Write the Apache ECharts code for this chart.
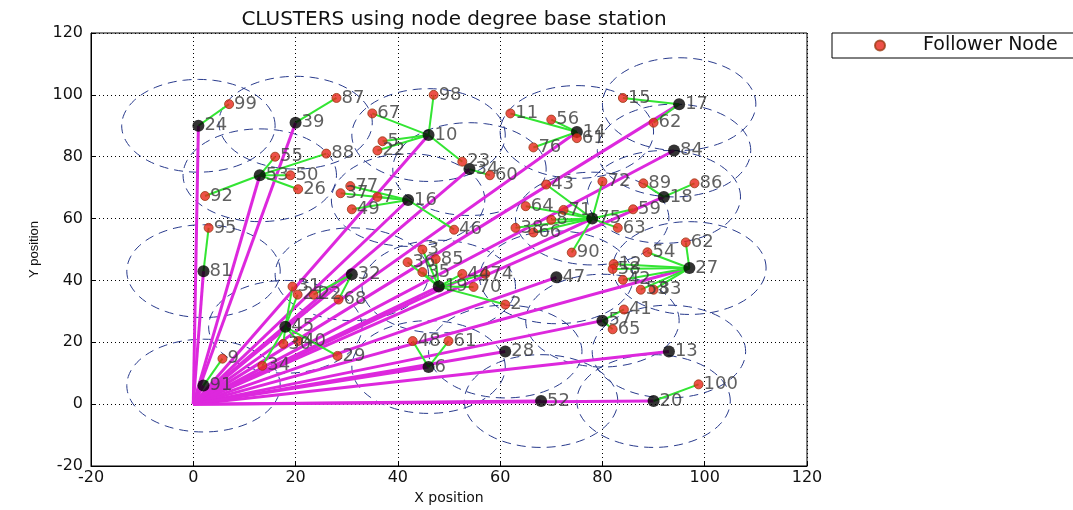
<!DOCTYPE html>
<html>
<head>
<meta charset="utf-8">
<script src="https://cdn.jsdelivr.net/npm/echarts@6/dist/echarts.min.js"></script>
<style>html,body{margin:0;padding:0;background:#fff;}#c{width:1073px;height:510px;}</style>
</head>
<body>
<div id="c"></div>
<script>
// ---- data ----
const BASE = [0, 0];
const RADIUS = 15;
const xTicks = [-20, 0, 20, 40, 60, 80, 100, 120];
const yTicks = [-20, 0, 20, 40, 60, 80, 100, 120];

// cluster heads
const headLabels = ['24','39','10','14','17','84','53','34','16','75','18','81','32','19','47','27','57','13','28','6','52','20','91','45'];
const headX =      [1,   20,  46,  75,  95,  94,  13,  54,  42,  78,  92,  2,   31,  48,  71,  97,  80,  93,  61,  46,  68,  90,  2,   18];
const headY =      [90,  91,  87,  88,  97,  82,  74,  76,  66,  60,  67,  43,  42,  38,  41,  44,  27,  17,  17,  12,  1,   1,   6,   25];

// follower nodes
const folLabels = ['99','87','55','88','98','67','5','22','23','11','56','76','61','15','62','60','50','26','92',
  '43','72','64','71','8','38','66','90','59','63','89','86','77','37','7','49','46','95',
  '31','21','22','68','30','40','34','29','9',
  '3','36','85','35','44','74','70','2',
  '62','54','12','58','42','53','83','41','65','48','61','100'];
const folX = [7,28,16,26,47,35,37,36,52.6,62,70,66.5,75,84,90,58,19,20.5,2.3,
  69,80,65,72.4,70,63,66.5,74,86,83,88,98,30.7,28.8,36,31,51,3,
  19.4,20.4,23.5,28.4,17.6,20.5,13.5,28.2,5.7,
  44.8,41.9,47.4,44.8,52.6,57.1,54.8,61,
  96.3,88.8,82.2,82,84,87.5,90,84.2,82,42.9,49.9,98.8];
const folY = [97,99,80,81,100,94,85,82,78.4,94,92,83,86,99,91,74,74,69.5,67.3,
  71,72,64,62.8,59.6,57,55.5,49,63,57,71.4,71.4,70.5,68.2,67,63,56.4,57,
  38,35.4,35.4,33.8,19.5,20.4,12.4,15.6,14.7,
  50,45.9,46.9,42.7,42.1,42.1,37.9,32.2,
  52.3,49.1,45.3,43.7,40.2,37,37,30.6,24.2,20.4,20.4,6.4];
const folHead = ['24','39','53','53','10','10','10','10','10','14','14','14','14','17','17','34','53','53','53',
  '75','75','75','75','75','75','75','75','75','75','18','18','16','16','16','16','16','81',
  '45','45','32','32','45','45','45','45','91',
  '19','19','19','19','19','19','19','19',
  '27','27','27','27','27','27','27','57','57','6','6','20'];

// ---- build ----
const heads = headLabels.map((l, i) => ({ value: [headX[i], headY[i]], name: l }));
const followers = folLabels.map((l, i) => ({ value: [folX[i], folY[i]], name: l }));
const headIndex = {};
headLabels.forEach((l, i) => { headIndex[l] = i; });
const links = folLabels.map((l, i) => {
  const h = headIndex[folHead[i]];
  return [folX[i], folY[i], headX[h], headY[h]];
});

const WIDE = 'DejaVu Sans, Verdana, sans-serif';
const FONT = 'Liberation Sans, Arial, sans-serif';
const chart = echarts.init(document.getElementById('c'), null, { renderer: 'canvas' });

const labelStyle = {
  show: true, position: 'right', distance: 0,
  formatter: p => p.data.name,
  color: '#383838', fontSize: 18, fontFamily: WIDE
};

chart.setOption({
  animation: false,
  backgroundColor: '#fff',
  title: {
    text: 'CLUSTERS using node degree base station',
    left: 449, top: 5, textAlign: 'center',
    textStyle: { fontSize: 20, fontWeight: 'normal', color: '#111', fontFamily: WIDE }
  },
  legend: {
    data: ['Follower Node'],
    left: 832, top: 33,
    orient: 'vertical',
    padding: [3, 120, 3, 42],
    itemWidth: 76, itemHeight: 10, itemGap: 0,
    borderColor: '#000', borderWidth: 1, backgroundColor: '#fff',
    textStyle: { fontSize: 19, color: '#111', fontFamily: WIDE }
  },
  grid: { left: 91, right: 266, top: 33, bottom: 38, show: true, borderColor: '#000', borderWidth: 1, backgroundColor: '#fff' },
  xAxis: {
    type: 'value', min: xTicks[0], max: xTicks[xTicks.length - 1], interval: 20,
    name: 'X position', nameLocation: 'middle', nameGap: 25,
    nameTextStyle: { fontSize: 14, color: '#111', fontFamily: WIDE },
    axisLine: { show: true, onZero: false, lineStyle: { color: '#000' } },
    axisTick: { show: true, inside: true, length: 5, lineStyle: { color: '#000' } },
    axisLabel: { fontSize: 16, color: '#111', fontFamily: WIDE, margin: 4 },
    splitLine: { show: true, lineStyle: { color: '#000', type: [1, 3], width: 1 } }
  },
  yAxis: {
    type: 'value', min: yTicks[0], max: yTicks[yTicks.length - 1], interval: 20,
    name: 'Y position', nameLocation: 'middle', nameGap: 50, nameRotate: 90,
    nameTextStyle: { fontSize: 13, color: '#111', fontFamily: FONT },
    axisLine: { show: true, onZero: false, lineStyle: { color: '#000' } },
    axisTick: { show: true, inside: true, length: 5, lineStyle: { color: '#000' } },
    axisLabel: { fontSize: 16, color: '#111', fontFamily: WIDE, margin: 8 },
    splitLine: { show: true, lineStyle: { color: '#000', type: [1, 3], width: 1 } }
  },
  series: [
    {
      name: 'range', type: 'custom', z: 1, silent: true,
      data: heads.map(h => h.value),
      renderItem: (params, api) => {
        const cx = api.value(0), cy = api.value(1);
        const pts = [];
        for (let k = 0; k <= 96; k++) {
          const a = k / 96 * Math.PI * 2;
          pts.push(api.coord([cx + RADIUS * Math.cos(a), cy + RADIUS * Math.sin(a)]));
        }
        return { type: 'polyline', shape: { points: pts },
          style: { stroke: '#283a8c', lineWidth: 1, lineDash: [9, 6], fill: null } };
      }
    },
    {
      name: 'base links', type: 'custom', z: 2, silent: true,
      data: heads.map(h => h.value),
      renderItem: (params, api) => {
        const p0 = api.coord(BASE), p1 = api.coord([api.value(0), api.value(1)]);
        return { type: 'line', shape: { x1: p0[0], y1: p0[1], x2: p1[0], y2: p1[1] },
          style: { stroke: '#dd28dd', lineWidth: 3 } };
      }
    },
    {
      name: 'cluster links', type: 'custom', z: 3, silent: true,
      data: links,
      renderItem: (params, api) => {
        const p0 = api.coord([api.value(0), api.value(1)]), p1 = api.coord([api.value(2), api.value(3)]);
        return { type: 'line', shape: { x1: p0[0], y1: p0[1], x2: p1[0], y2: p1[1] },
          style: { stroke: '#33e533', lineWidth: 2 } };
      }
    },
    {
      name: 'Cluster Head', type: 'scatter', z: 4,
      data: heads, symbol: 'circle', symbolSize: 12,
      itemStyle: { color: '#000' },
      label: labelStyle
    },
    {
      name: 'Follower Node', type: 'scatter', z: 5,
      data: followers, symbol: 'circle', symbolSize: 9,
      itemStyle: { color: '#e8261a', borderColor: '#9a3a12', borderWidth: 1 },
      label: labelStyle
    }
  ]
});
</script>
</body>
</html>
